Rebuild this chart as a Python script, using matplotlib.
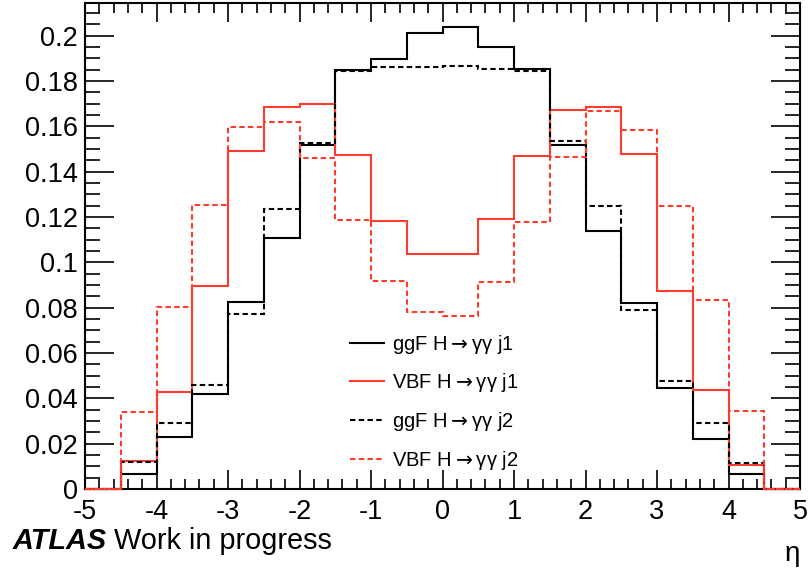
import numpy as np
import matplotlib
matplotlib.use("Agg")
import matplotlib.pyplot as plt

plt.rcParams['font.family'] = ['Liberation Sans', 'DejaVu Sans']

# eta binning, 0.5 wide
eta_edges = np.arange(-5.0, 5.01, 0.5)

# normalised eta distributions of the leading (j1) and sub-leading (j2) jet
ggf_j1 = [0, 0.0066, 0.0228, 0.0419, 0.0826, 0.1106, 0.1517, 0.1848, 0.1897, 0.2014,
          0.2039, 0.1948, 0.1852, 0.1517, 0.1138, 0.0822, 0.0444, 0.0221, 0.0066, 0]
vbf_j1 = [0, 0.0125, 0.0426, 0.0897, 0.1492, 0.1686, 0.1699, 0.1473, 0.1183, 0.1035,
          0.1038, 0.1190, 0.1470, 0.1671, 0.1686, 0.1476, 0.0873, 0.0437, 0.0106, 0]
ggf_j2 = [0, 0.0118, 0.0293, 0.0459, 0.0772, 0.1236, 0.1527, 0.1843, 0.1860, 0.1862,
          0.1868, 0.1851, 0.1843, 0.1535, 0.1247, 0.0790, 0.0476, 0.0293, 0.0113, 0]
vbf_j2 = [0, 0.0341, 0.0804, 0.1252, 0.1598, 0.1620, 0.1461, 0.1189, 0.0917, 0.0782,
          0.0763, 0.0912, 0.1179, 0.1466, 0.1668, 0.1583, 0.1249, 0.0833, 0.0345, 0]

labels = ['ggF H$\\rightarrow$γγ j1', 'VBF H$\\rightarrow$γγ j1',
          'ggF H$\\rightarrow$γγ j2', 'VBF H$\\rightarrow$γγ j2']

x_ticks = [-5, -4, -3, -2, -1, 0, 1, 2, 3, 4, 5]
y_ticks = [0, 0.02, 0.04, 0.06, 0.08, 0.1, 0.12, 0.14, 0.16, 0.18, 0.2]
y_tick_labels = ['0', '0.02', '0.04', '0.06', '0.08', '0.1', '0.12', '0.14', '0.16', '0.18', '0.2']

RED = '#ff3b2e'
DASH = (0, (2.6, 1.6))

fig = plt.figure(figsize=(8.09, 5.73), dpi=100)
ax = fig.add_axes([0.1051, 0.1466, 0.8838, 0.8473])

styles = [('black', '-'), (RED, '-'), ('black', DASH), (RED, DASH)]
handles = []
for vals, (col, ls), lab in zip([ggf_j1, vbf_j1, ggf_j2, vbf_j2], styles, labels):
    ax.stairs(vals, eta_edges, color=col, linestyle=ls, linewidth=1.5,
              clip_on=False, zorder=3)
    h, = ax.plot([], [], color=col, linestyle=ls, linewidth=1.5, label=lab)
    handles.append(h)

ax.set_xlim(-5, 5)
ax.set_ylim(0, 0.2142)
ax.set_xticks(x_ticks)
ax.set_xticklabels([str(t) for t in x_ticks])
ax.set_xticks(np.arange(-5, 5.01, 0.2), minor=True)
ax.set_yticks(y_ticks)
ax.set_yticklabels(y_tick_labels)
ax.set_yticks(np.arange(0, 0.2142, 0.005), minor=True)

ax.tick_params(which='both', direction='in', top=True, right=True, width=1.2, labelsize=19.5)
ax.tick_params(axis='x', which='major', length=14, pad=7)
ax.tick_params(axis='x', which='minor', length=7)
ax.tick_params(axis='y', which='major', length=21, pad=5)
ax.tick_params(axis='y', which='minor', length=11)
for sp in ax.spines.values():
    sp.set_linewidth(1.5)

ax.legend(handles=handles, loc='upper left', bbox_to_anchor=(0.37, 0.322),
          frameon=False, fontsize=14.5, handlelength=1.7, handletextpad=0.4,
          labelspacing=0.78, borderpad=0, borderaxespad=0)

# ATLAS label: bold italic tag followed by the plain text
base_y = 1 - 549 / 573
atlas = fig.text(13 / 809, base_y, 'ATLAS', fontsize=20.8, fontweight='bold',
                 fontstyle='italic', va='baseline', ha='left')
renderer = fig.canvas.get_renderer()
bb = atlas.get_window_extent(renderer=renderer)
fig.text(bb.x1 / fig.bbox.width + 7 / 809, base_y, 'Work in progress', fontsize=20.8,
         va='baseline', ha='left')
fig.text(800 / 809, 1 - 561 / 573, 'η', fontsize=20, va='baseline', ha='right')

fig.savefig('out.png', dpi=100)
